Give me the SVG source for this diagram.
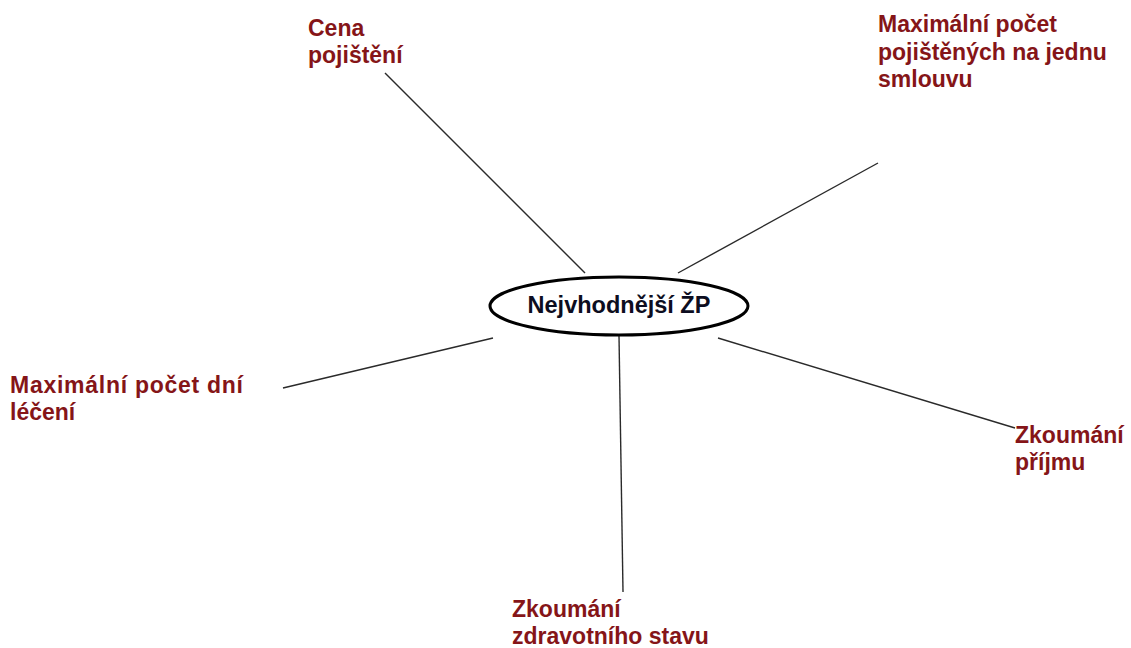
<svg xmlns="http://www.w3.org/2000/svg" width="1131" height="648" viewBox="0 0 1131 648">
<style>
.lbl{font-family:"Liberation Sans",Arial,sans-serif;font-weight:bold;font-size:23px;fill:#851518}
.ctr{font-family:"Liberation Sans",Arial,sans-serif;font-weight:bold;font-size:23.5px;fill:#0d0d20}
.conn line{stroke:#2a2a2a;stroke-width:1.4;fill:none}
</style>
<rect width="1131" height="648" fill="#fff"/>
<g id="connectors" class="conn">
<line x1="385" y1="73" x2="585" y2="273"/>
<line x1="878" y1="163" x2="678" y2="273"/>
<line x1="283" y1="388" x2="493" y2="338"/>
<line x1="619" y1="336" x2="623" y2="592"/>
<line x1="718" y1="338" x2="1015" y2="428"/>
</g>
<g id="center">
<ellipse cx="619" cy="306" rx="129" ry="29" fill="#fff" stroke="#000" stroke-width="3"/>
<text class="ctr" x="619" y="313" text-anchor="middle">Nejvhodnější ŽP</text>
</g>
<g id="cena">
<text class="lbl" x="308" y="36">Cena</text>
<text class="lbl" x="308" y="63">pojištění</text>
</g>
<g id="max-pojistenych">
<text class="lbl" x="878" y="32">Maximální počet</text>
<text class="lbl" x="878" y="60">pojištěných na jednu</text>
<text class="lbl" x="878" y="87">smlouvu</text>
</g>
<g id="max-dni">
<text class="lbl" x="10" y="393" textLength="233">Maximální počet dní</text>
<text class="lbl" x="10" y="420">léčení</text>
</g>
<g id="prijem">
<text class="lbl" x="1015" y="443">Zkoumání</text>
<text class="lbl" x="1015" y="470">příjmu</text>
</g>
<g id="zdravi">
<text class="lbl" x="512" y="617">Zkoumání</text>
<text class="lbl" x="512" y="644">zdravotního stavu</text>
</g>
</svg>
